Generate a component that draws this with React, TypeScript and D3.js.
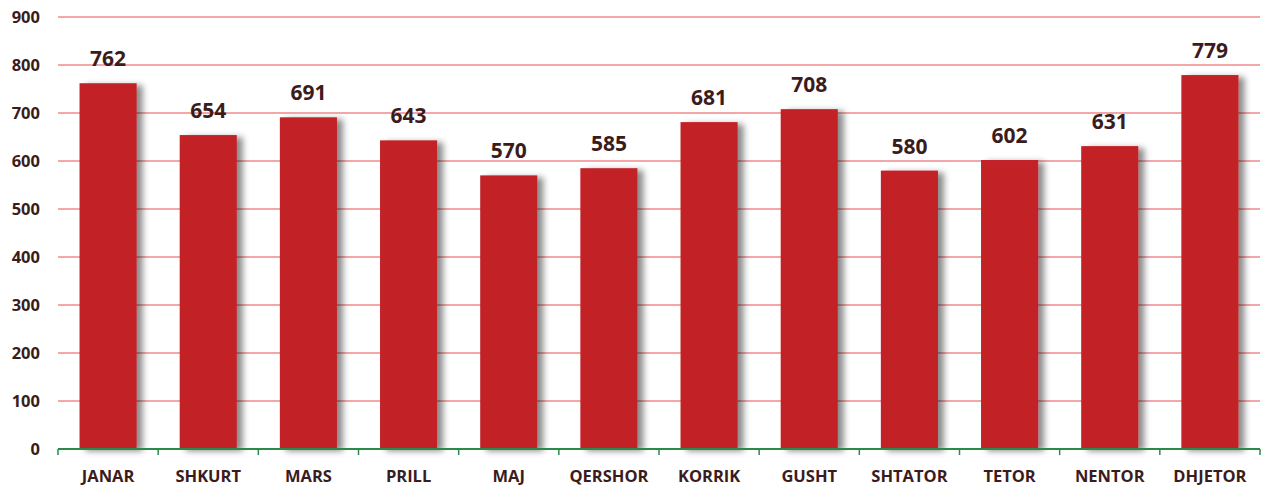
import React from "react";
import * as d3 from "d3";

const months = ["JANAR","SHKURT","MARS","PRILL","MAJ","QERSHOR","KORRIK","GUSHT","SHTATOR","TETOR","NENTOR","DHJETOR"];
const values = [762,654,691,643,570,585,681,708,580,602,631,779];
const yTicks = [0,100,200,300,400,500,600,700,800,900];

const W = 1261, H = 486;
const m = { left: 58, right: 1, top: 17, bottom: 37 };

export default function App() {
  const x = d3.scaleBand<string>().domain(months).range([m.left, W - m.right]).paddingInner(0.43).paddingOuter(0.215);
  const y = d3.scaleLinear().domain([0, 900]).range([H - m.bottom, m.top]);
  const step = (W - m.right - m.left) / months.length;
  const font = "'Open Sans', 'DejaVu Sans', sans-serif";
  const txt = "#3b1c1c";
  return (
    <svg width={W} height={H} style={{ position: "absolute", left: 0, top: 0 }} fontFamily={font}>
      <defs>
        <filter id="sh" x="-20%" y="-10%" width="150%" height="120%">
          <feDropShadow dx="6" dy="2" stdDeviation="3" floodColor="#000" floodOpacity="0.45" />
        </filter>
      </defs>
      <rect width={W} height={H} fill="#fff" />
      {yTicks.filter(t => t > 0).map(t => (
        <line key={t} x1={m.left} x2={W - m.right} y1={y(t)} y2={y(t)} stroke="#f4a7a9" strokeWidth={2} />
      ))}
      {yTicks.map(t => (
        <text key={t} x={40} y={y(t)} dy="0.36em" textAnchor="end" fontSize={16.5} fontWeight={700} fill={txt}>{t}</text>
      ))}
      {months.map((mo, i) => (
        <rect key={mo} x={x(mo)} y={y(values[i])} width={x.bandwidth()} height={y(0) - y(values[i])} fill="#c22026" filter="url(#sh)" />
      ))}
      {months.map((mo, i) => (
        <text key={mo} x={x(mo)! + x.bandwidth() / 2} y={y(values[i]) - 17} textAnchor="middle" fontSize={21} fontWeight={700} fill={txt}>{values[i]}</text>
      ))}
      <line x1={m.left} x2={W - m.right} y1={y(0)} y2={y(0)} stroke="#2a8a4a" strokeWidth={2} />
      {d3.range(months.length + 1).map(i => (
        <line key={i} x1={m.left + i * step} x2={m.left + i * step} y1={y(0)} y2={y(0) + 6} stroke="#2a8a4a" strokeWidth={1.5} />
      ))}
      {months.map(mo => (
        <text key={mo} x={x(mo)! + x.bandwidth() / 2} y={482} textAnchor="middle" fontSize={16.5} fontWeight={700} fill={txt}>{mo}</text>
      ))}
    </svg>
  );
}
